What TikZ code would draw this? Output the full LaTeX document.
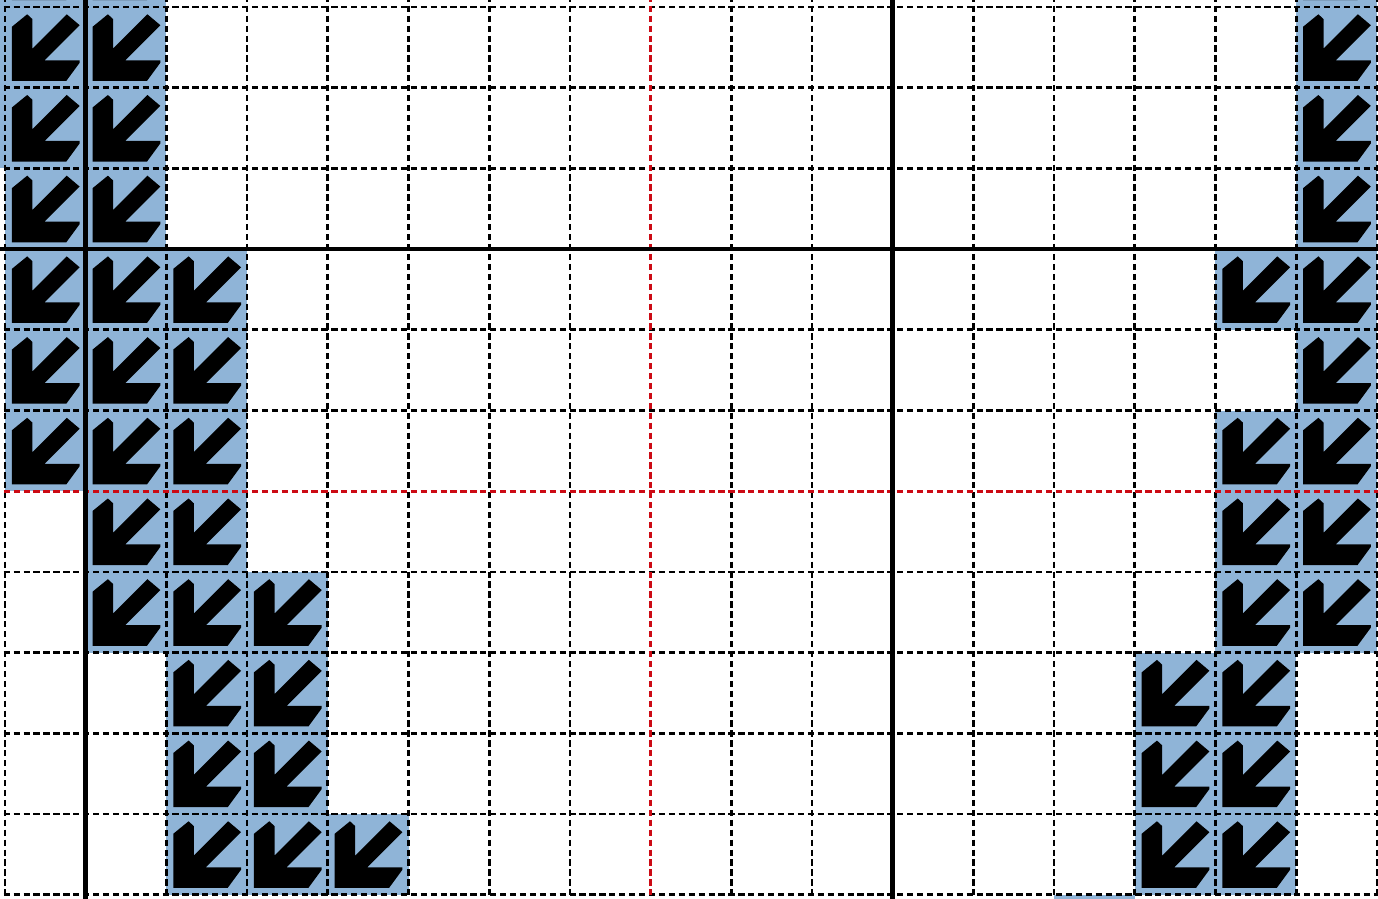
\documentclass[tikz,border=0pt]{standalone}
\definecolor{cellblue}{RGB}{143,180,215}
\definecolor{gridred}{RGB}{204,10,20}
\tikzset{
  gridline/.style={black, line width=0.95pt, dash pattern=on 2.2pt off 1.3pt},
  redline/.style={gridred, line width=0.95pt, dash pattern=on 2.2pt off 1.3pt},
  boldline/.style={black, line width=1.6pt},
  cellfill/.style={fill=cellblue},
  arrowfill/.style={fill=black},
}
\newcommand{\swarrowshape}[2]{%
  \fill[cellfill] (#1,-#2-1) rectangle ++(1,1);
  \fill[arrowfill,shift={(#1,-#2-1)}]
    (0.085,0.085) -- (0.085,0.755) -- (0.275,0.91) -- (0.34,0.85) -- (0.34,0.485)
    -- (0.765,0.91) -- (0.925,0.775) -- (0.49,0.34) -- (0.925,0.34) -- (0.925,0.31)
    -- (0.76,0.085) -- cycle;
}
\begin{document}
\begin{tikzpicture}[x=1cm,y=1cm]
\useasboundingbox (-0.062,-11.041) rectangle (17.014,0.087);
\begin{scope}
\clip (-0.062,-11.041) rectangle (17.014,0.087);
% blue cells with arrows (column/row)
\foreach \c/\r in {-1/-1,0/-1,1/-1,16/-1,
                   -1/0,0/0,1/0,16/0,
                   -1/1,0/1,1/1,16/1,
                   0/2,1/2,16/2,
                   0/3,1/3,2/3,15/3,16/3,
                   0/4,1/4,2/4,16/4,
                   0/5,1/5,2/5,15/5,16/5,
                   1/6,2/6,15/6,16/6,
                   1/7,2/7,3/7,15/7,16/7,
                   2/8,3/8,14/8,15/8,
                   2/9,3/9,14/9,15/9,
                   2/10,3/10,4/10,14/10,15/10,
                   13/11}{
  \swarrowshape{\c}{\r}
}
% dashed grid
\foreach \x in {-1,0,2,3,4,5,6,7,9,10,12,13,14,15,16,17}
  \draw[gridline] (\x,1) -- (\x,-12);
\foreach \y in {1,0,-1,-2,-4,-5,-7,-8,-9,-10,-11,-12}
  \draw[gridline] (-1,\y) -- (18,\y);
% red dashed lines
\draw[redline] (8,1) -- (8,-12);
\draw[redline] (-1,-6) -- (18,-6);
% bold lines
\draw[boldline] (1,1) -- (1,-12);
\draw[boldline] (11,1) -- (11,-12);
\draw[boldline] (-1,-3) -- (18,-3);
\end{scope}
\end{tikzpicture}
\end{document}
